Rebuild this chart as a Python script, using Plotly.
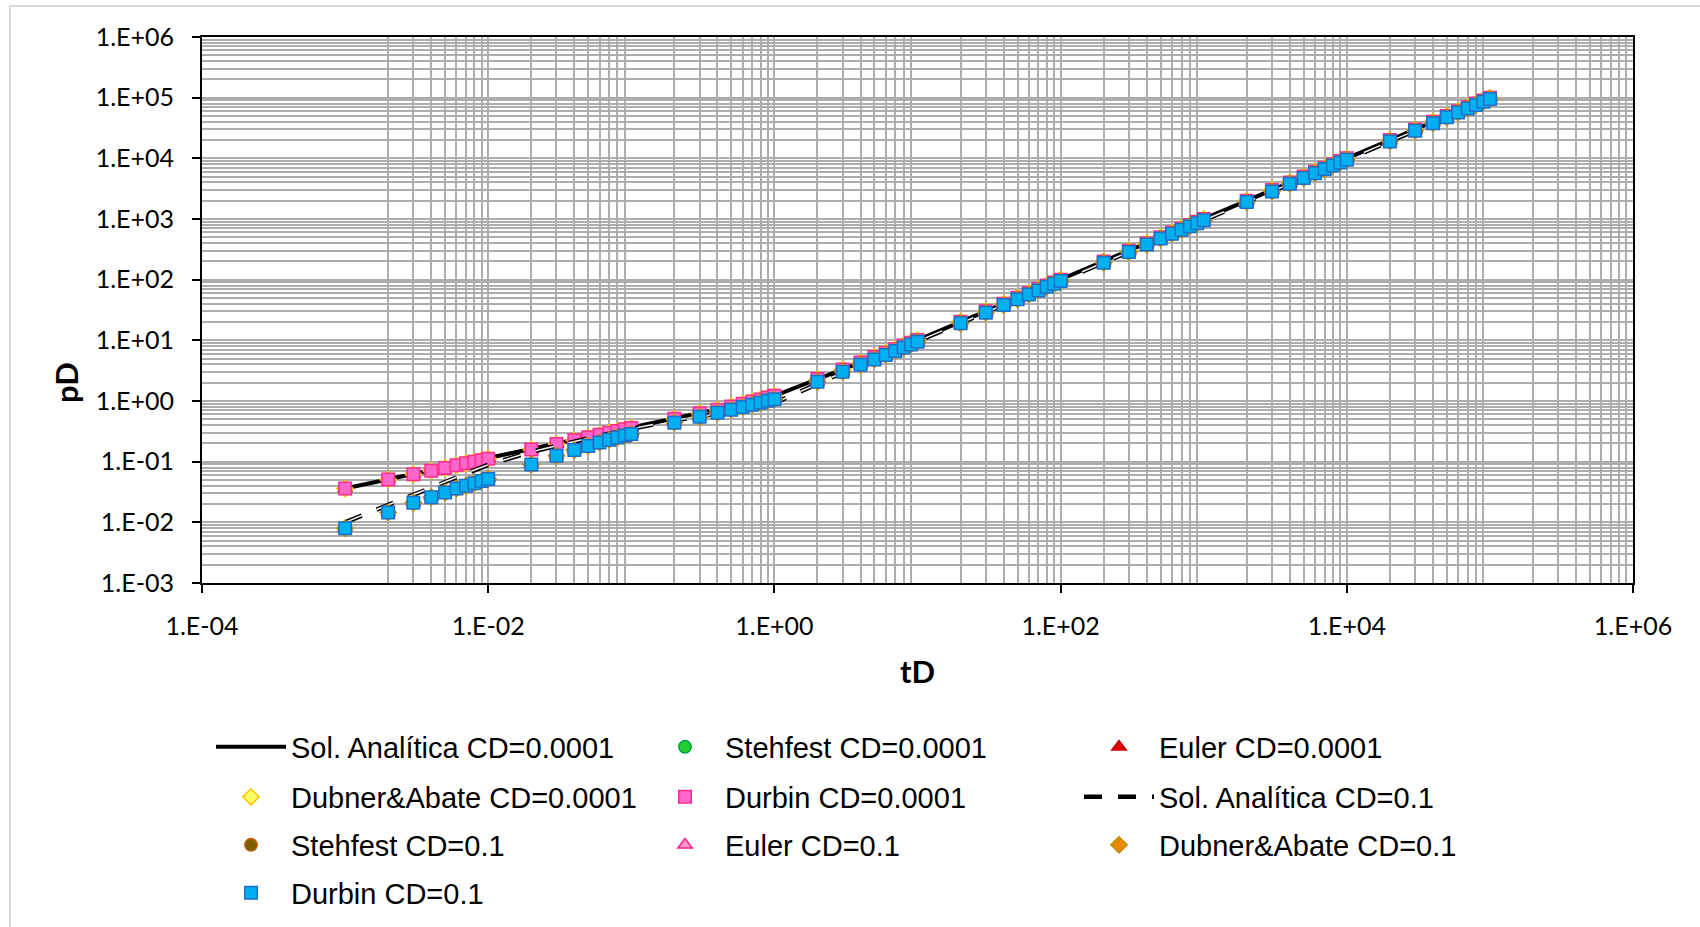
import plotly.graph_objects as go

# ---------------- data ----------------
tD = [1e-3, 2e-3, 3e-3, 4e-3, 5e-3, 6e-3, 7e-3, 8e-3, 9e-3,
      1e-2, 2e-2, 3e-2, 4e-2, 5e-2, 6e-2, 7e-2, 8e-2, 9e-2,
      0.1, 0.2, 0.3, 0.4, 0.5, 0.6, 0.7, 0.8, 0.9,
      1, 2, 3, 4, 5, 6, 7, 8, 9,
      10, 20, 30, 40, 50, 60, 70, 80, 90,
      100, 200, 300, 400, 500, 600, 700, 800, 900,
      1000, 2000, 3000, 4000, 5000, 6000, 7000, 8000, 9000,
      10000, 20000, 30000, 40000, 50000, 60000, 70000, 80000, 90000,
      100000]

# analytical solution, CD = 0.0001 (solid line)
pD_analitica_CD0001 = [0.036, 0.051, 0.062, 0.071, 0.079, 0.087, 0.094, 0.100, 0.106,
                       0.112, 0.158, 0.195, 0.225, 0.252, 0.277, 0.300, 0.321, 0.341,
                       0.360, 0.51, 0.63, 0.72, 0.81, 0.90, 0.98, 1.06, 1.14,
                       1.22, 2.3, 3.3, 4.3, 5.3, 6.25, 7.2, 8.2, 9.15,
                       10.1, 20.2, 30.2, 40.2, 50.2, 60.2, 70.1, 80.1, 90.1,
                       100, 200, 300, 400, 500, 600, 700, 800, 900,
                       1000, 2000, 3000, 4000, 5000, 6000, 7000, 8000, 9000,
                       10000, 20000, 30000, 40000, 50000, 60000, 70000, 80000, 90000,
                       100000]

# numerical inversions, CD = 0.0001 (Stehfest, Euler, Dubner&Abate, Durbin overlap)
pD_numerico_CD0001 = [0.036, 0.051, 0.062, 0.071, 0.079, 0.087, 0.094, 0.100, 0.106,
                      0.112, 0.158, 0.195, 0.225, 0.252, 0.277, 0.300, 0.321, 0.341,
                      0.360, 0.51, 0.63, 0.72, 0.81, 0.90, 0.98, 1.06, 1.14,
                      1.22, 2.3, 3.3, 4.3, 5.3, 6.25, 7.2, 8.2, 9.15,
                      10.1, 20.2, 30.2, 40.2, 50.2, 60.2, 70.1, 80.1, 90.1,
                      100, 200, 300, 400, 500, 600, 700, 800, 900,
                      1000, 2000, 3000, 4000, 5000, 6000, 7000, 8000, 9000,
                      10000, 20000, 30000, 40000, 50000, 60000, 70000, 80000, 90000,
                      100000]

# analytical solution, CD = 0.1 (dashed line)
pD_analitica_CD01 = [0.0100, 0.0195, 0.029, 0.038, 0.047, 0.056, 0.065, 0.073, 0.081,
                     0.089, 0.145, 0.185, 0.215, 0.242, 0.266, 0.289, 0.310, 0.330,
                     0.348, 0.48, 0.56, 0.62, 0.67, 0.71, 0.75, 0.79, 0.84,
                     0.92, 1.95, 2.95, 3.9, 4.85, 5.8, 6.75, 7.7, 8.65,
                     9.6, 19.2, 28.8, 38.3, 47.8, 57.3, 66.8, 76.3, 85.8,
                     95.3, 190.5, 285.5, 380.5, 475.5, 570.5, 665.5, 760.5, 855.5,
                     951, 1901, 2851, 3801, 4751, 5701, 6651, 7601, 8551,
                     9501, 19001, 28501, 38001, 47501, 57001, 66501, 76001, 85501,
                     95001]

# numerical inversions, CD = 0.1
pD_numerico_CD01 = [0.0080, 0.0145, 0.021, 0.026, 0.031, 0.036, 0.040, 0.044, 0.048,
                    0.052, 0.090, 0.125, 0.155, 0.182, 0.207, 0.229, 0.250, 0.269,
                    0.287, 0.44, 0.55, 0.64, 0.72, 0.80, 0.87, 0.94, 1.01,
                    1.07, 2.08, 3.03, 3.95, 4.85, 5.75, 6.7, 7.6, 8.55,
                    9.5, 19.1, 28.6, 38.1, 47.6, 57.1, 66.6, 76.1, 85.6,
                    95.0, 190, 285, 380, 475, 570, 665, 760, 855,
                    950, 1900, 2850, 3800, 4750, 5700, 6650, 7600, 8550,
                    9500, 19000, 28500, 38000, 47500, 57000, 66500, 76000, 85500,
                    95000]

x_tickvals = [1e-4, 1e-2, 1e0, 1e2, 1e4, 1e6]
x_ticktext = ["1.E-04", "1.E-02", "1.E+00", "1.E+02", "1.E+04", "1.E+06"]
y_tickvals = [1e-3, 1e-2, 1e-1, 1e0, 1e1, 1e2, 1e3, 1e4, 1e5, 1e6]
y_ticktext = ["1.E-03", "1.E-02", "1.E-01", "1.E+00", "1.E+01", "1.E+02",
              "1.E+03", "1.E+04", "1.E+05", "1.E+06"]

# ---------------- figure ----------------
W, H = 1700, 927
L, R, T, B = 202, 1633, 37, 583  # plot area in px


def px_x(p):
    return (p - L) / (R - L)


def px_y(p):
    return (B - p) / (B - T)


fig = go.Figure()


def mk(name, y, symbol, fill, edge, legend, size=12.5, lw=1.5):
    fig.add_trace(go.Scatter(
        x=tD, y=y, mode="markers", name=name, legend=legend,
        marker=dict(symbol=symbol, size=size, color=fill,
                    line=dict(color=edge, width=lw))))


# series order as in the original workbook
fig.add_trace(go.Scatter(x=tD, y=pD_analitica_CD0001, mode="lines",
                         name="Sol. Analítica CD=0.0001", legend="legend",
                         line=dict(color="black", width=4)))
mk("Stehfest CD=0.0001", pD_numerico_CD0001, "circle", "#22CC33", "#00A040", "legend")
mk("Euler CD=0.0001", pD_numerico_CD0001, "triangle-up", "#E00000", "#C00000", "legend")
mk("Dubner&Abate CD=0.0001", pD_numerico_CD0001, "diamond", "#FFFF66", "#FFC000", "legend2")
mk("Durbin CD=0.0001", pD_numerico_CD0001, "square", "#FF66CC", "#FF2C8A", "legend2")
fig.add_trace(go.Scatter(x=tD, y=pD_analitica_CD01, mode="lines",
                         name="Sol. Analítica CD=0.1", legend="legend2",
                         legendgroup="ana01",
                         line=dict(color="black", width=4.5, dash="18px,16px")))
fig.add_trace(go.Scatter(x=tD, y=pD_analitica_CD01, mode="lines",
                         name="Sol. Analítica CD=0.1", legend="legend2",
                         legendgroup="ana01", showlegend=False, hoverinfo="skip",
                         line=dict(color="#F2F2F2", width=1.5, dash="18px,16px")))
mk("Stehfest CD=0.1", pD_numerico_CD01, "circle", "#7F6000", "#C55A11", "legend3")
mk("Euler CD=0.1", pD_numerico_CD01, "triangle-up", "#FF99CC", "#FF1C8C", "legend3")
mk("Dubner&Abate CD=0.1", pD_numerico_CD01, "diamond", "#E68A00", "#BF9000", "legend3")
mk("Durbin CD=0.1", pD_numerico_CD01, "square", "#00B0F0", "#1F6FC8", "legend4")

grid = "#ADADAD"
x_minor = [k * 10.0 ** n for n in range(-3, 6) for k in range(2, 10)]
y_minor = [k * 10.0 ** n for n in range(-3, 6) for k in range(2, 10)]

tickfont = dict(family="Lato, Carlito, Calibri, sans-serif", size=25, color="black")

fig.update_xaxes(type="log", range=[-4, 6], tickvals=x_tickvals, ticktext=x_ticktext,
                 showline=True, linecolor="black", linewidth=2, mirror=True,
                 ticks="outside", ticklen=8, tickwidth=2, tickcolor="black",
                 ticklabelstandoff=12, tickfont=tickfont,
                 showgrid=True, gridcolor=grid, gridwidth=1.5, zeroline=False,
                 minor=dict(tickvals=x_minor, showgrid=True, gridcolor=grid,
                            gridwidth=1.5, ticks=""))
fig.update_yaxes(type="log", range=[-3, 6], tickvals=y_tickvals, ticktext=y_ticktext,
                 showline=True, linecolor="black", linewidth=2, mirror=True,
                 ticks="outside", ticklen=8, tickwidth=2, tickcolor="black",
                 ticklabelstandoff=13, tickfont=tickfont,
                 showgrid=True, gridcolor=grid, gridwidth=1.5, zeroline=False,
                 minor=dict(tickvals=y_minor, showgrid=True, gridcolor=grid,
                            gridwidth=1.5, ticks=""))

legfont = dict(family="Liberation Sans, Arial, sans-serif", size=29, color="black")
leg_common = dict(orientation="h", xanchor="left", yanchor="middle",
                  xref="container", yref="container",
                  x=211 / W, entrywidth=349, entrywidthmode="pixels",
                  itemwidth=70, font=legfont, bgcolor="rgba(0,0,0,0)",
                  borderwidth=0, traceorder="normal")

fig.update_layout(
    width=W, height=H, autosize=False,
    margin=dict(l=L, r=W - R, t=T, b=H - B, pad=0),
    paper_bgcolor="white", plot_bgcolor="white",
    showlegend=True,
    legend=dict(leg_common, y=1 - 747 / H),
    legend2=dict(leg_common, y=1 - 797 / H),
    legend3=dict(leg_common, y=1 - 845 / H),
    legend4=dict(leg_common, y=1 - 893 / H),
    annotations=[
        dict(text="<b>pD</b>", x=px_x(66), y=px_y(383), xref="paper", yref="paper",
             showarrow=False, textangle=-90, xanchor="center", yanchor="middle",
             font=dict(family="Lato, Carlito, Calibri, sans-serif", size=31, color="black")),
        dict(text="<b>tD</b>", x=0.5, y=px_y(671), xref="paper", yref="paper",
             showarrow=False, xanchor="center", yanchor="middle",
             font=dict(family="Lato, Carlito, Calibri, sans-serif", size=31, color="black")),
    ],
    shapes=[
        dict(type="line", xref="paper", yref="paper", x0=px_x(10), x1=px_x(10),
             y0=px_y(6), y1=px_y(1000), line=dict(color="#D9D9D9", width=2)),
        dict(type="line", xref="paper", yref="paper", x0=px_x(10), x1=px_x(1800),
             y0=px_y(6), y1=px_y(6), line=dict(color="#D9D9D9", width=2)),
    ],
)

fig.write_html("out.html")
